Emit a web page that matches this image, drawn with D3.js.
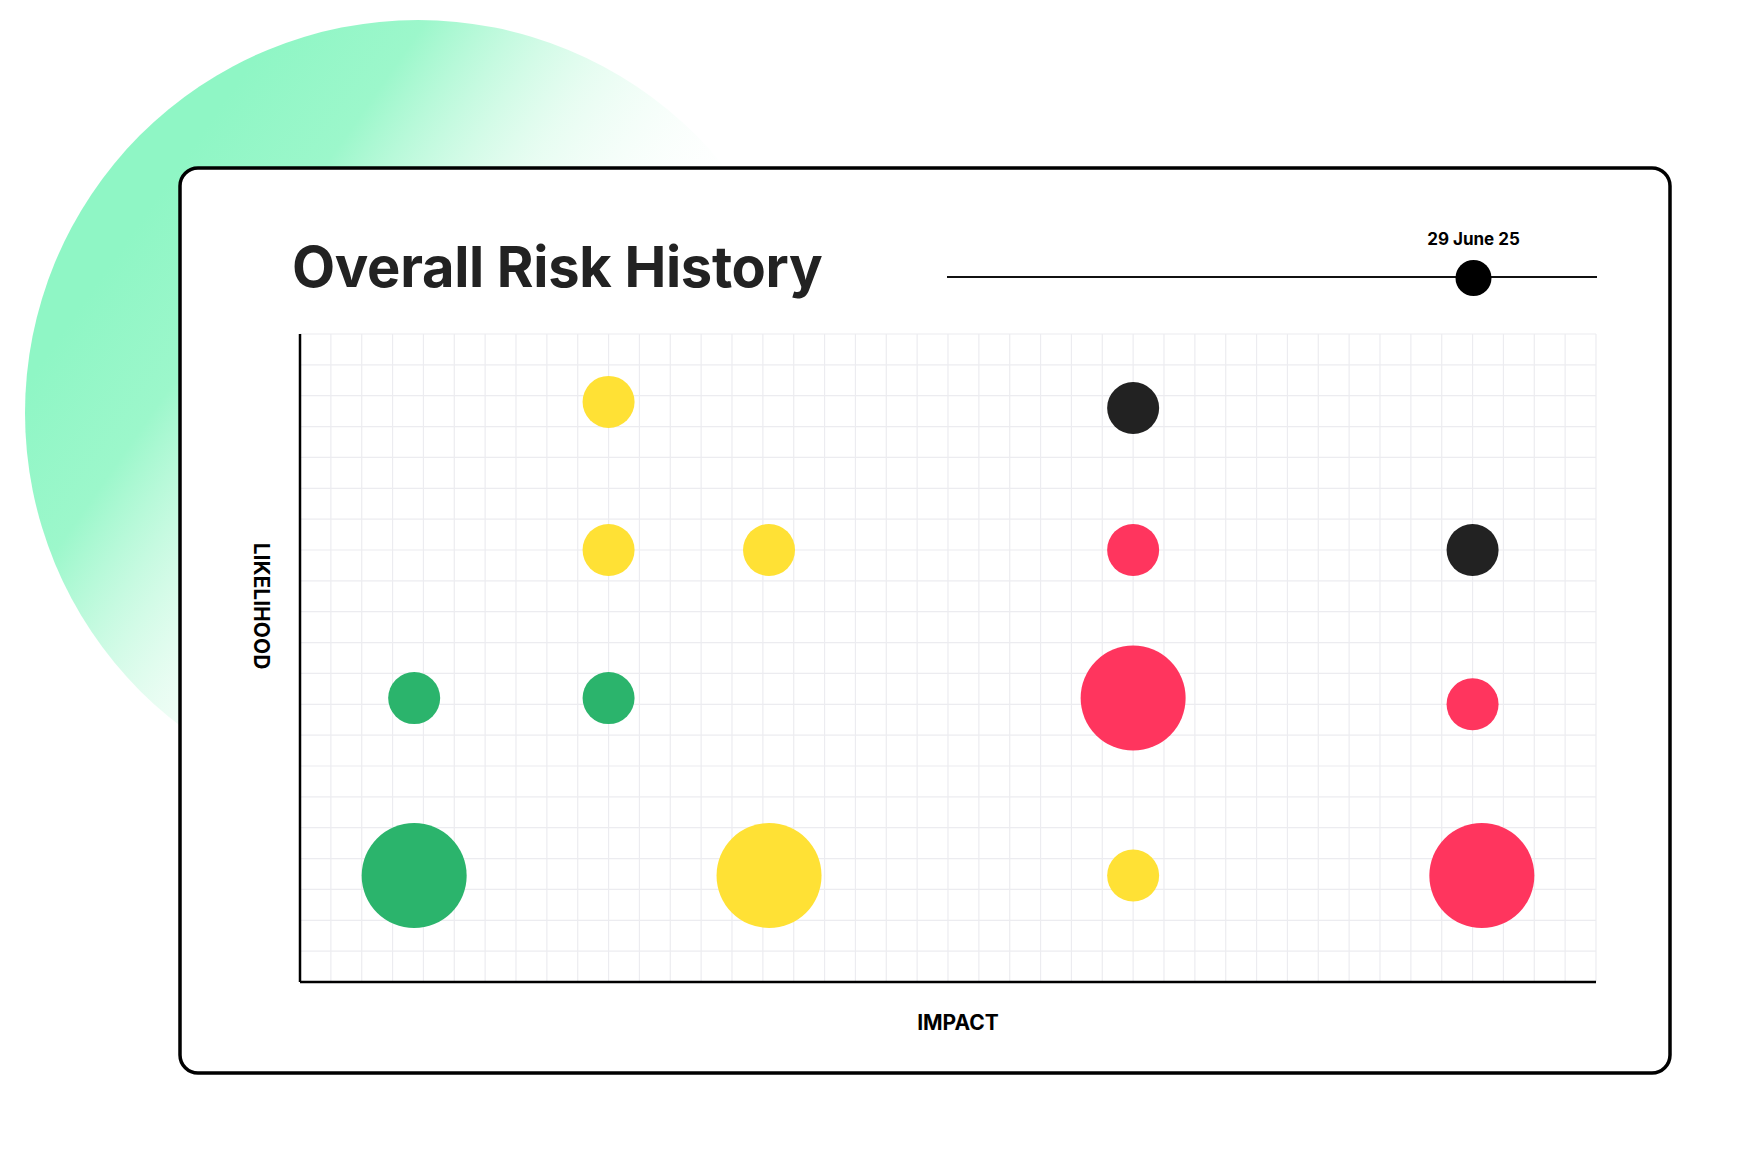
<!DOCTYPE html>
<html><head><meta charset="utf-8">
<script src="https://cdn.jsdelivr.net/npm/d3@7"></script>
<style>body{margin:0;background:#fff}svg{display:block}text{font-family:Inter,"Noto Sans",sans-serif}</style>
</head><body>
<script>
// risk points: impact / likelihood in grid units, size 1 = small, 2 = large
var impact = [10, 27, 10, 15.2, 27, 38, 3.7, 10, 27, 38, 3.7, 15.2, 27, 38.3];
var likelihood = [18.8, 18.6, 14, 14, 14, 14, 9.2, 9.2, 9.2, 9, 3.45, 3.45, 3.45, 3.45];
var sizes = [1, 1, 1, 1, 1, 1, 1, 1, 2, 1, 2, 2, 1, 2];
var colors = ["#ffe135", "#222222", "#ffe135", "#ffe135", "#ff355e", "#222222", "#2bb46c", "#2bb46c", "#ff355e", "#ff355e", "#2bb46c", "#ffe135", "#ffe135", "#ff355e"];
var dates = ["29 June 25"];

var W = 1749, H = 1166;
var svg = d3.select("body").append("svg").attr("width", W).attr("height", H);
var defs = svg.append("defs");
var grad = defs.append("linearGradient").attr("id", "g").attr("x1", 0.15).attr("y1", 0.25).attr("x2", 0.65).attr("y2", 0.6);
grad.append("stop").attr("offset", 0).attr("stop-color", "#8ff6c5");
grad.append("stop").attr("offset", 0.25).attr("stop-color", "#9cf7cb");
grad.append("stop").attr("offset", 0.6).attr("stop-color", "#d8fbe9").attr("stop-opacity", 0.6);
grad.append("stop").attr("offset", 1).attr("stop-color", "#ffffff").attr("stop-opacity", 0);
svg.append("circle").attr("cx", 418).attr("cy", 413).attr("r", 393).attr("fill", "url(#g)");

// card
svg.append("rect").attr("x", 180).attr("y", 168).attr("width", 1490).attr("height", 905)
  .attr("rx", 18).attr("fill", "#fff").attr("stroke", "#000").attr("stroke-width", 3.5);

svg.append("text").attr("x", 292).attr("y", 287).attr("font-size", 56).attr("font-weight", 700)
  .attr("fill", "#222").attr("letter-spacing", -0.3).text("Overall Risk History");

// date slider
var slider = d3.scaleLinear().domain([0, 1]).range([947, 1597]);
svg.append("line").attr("x1", slider(0)).attr("x2", slider(1)).attr("y1", 277).attr("y2", 277)
  .attr("stroke", "#111").attr("stroke-width", 2);
svg.append("circle").attr("cx", slider(0.81)).attr("cy", 278).attr("r", 18).attr("fill", "#000");
svg.append("text").attr("x", slider(0.81)).attr("y", 245).attr("text-anchor", "middle")
  .attr("font-size", 17).attr("font-weight", 700).text(dates[0]);

// plot
var x = d3.scaleLinear().domain([0, 42]).range([300, 1596]);
var y = d3.scaleLinear().domain([0, 21]).range([982, 334]);
var r = d3.scaleLinear().domain([1, 2]).range([26, 52.5]);

var g = svg.append("g");
g.selectAll(".vx").data(d3.range(1, 43)).enter().append("line")
  .attr("x1", d => x(d)).attr("x2", d => x(d)).attr("y1", y(21)).attr("y2", y(0))
  .attr("stroke", "#ececf0").attr("stroke-width", 1.2);
g.selectAll(".hy").data(d3.range(1, 22)).enter().append("line")
  .attr("y1", d => y(d)).attr("y2", d => y(d)).attr("x1", x(0)).attr("x2", x(42))
  .attr("stroke", "#ececf0").attr("stroke-width", 1.2);
g.append("line").attr("x1", x(0)).attr("x2", x(0)).attr("y1", y(21)).attr("y2", y(0)).attr("stroke", "#000").attr("stroke-width", 2.5);
g.append("line").attr("x1", x(0)).attr("x2", x(42)).attr("y1", y(0)).attr("y2", y(0)).attr("stroke", "#000").attr("stroke-width", 2.5);

g.selectAll(".dot").data(impact).enter().append("circle")
  .attr("cx", (d, i) => x(d)).attr("cy", (d, i) => y(likelihood[i]))
  .attr("r", (d, i) => r(sizes[i])).attr("fill", (d, i) => colors[i]);

svg.append("text").attr("x", 958).attr("y", 1030).attr("text-anchor", "middle")
  .attr("font-size", 21).attr("font-weight", 700).text("IMPACT");
svg.append("text").attr("transform", "translate(254,606) rotate(90)").attr("text-anchor", "middle")
  .attr("font-size", 21).attr("font-weight", 700).text("LIKELIHOOD");
</script>
</body></html>
